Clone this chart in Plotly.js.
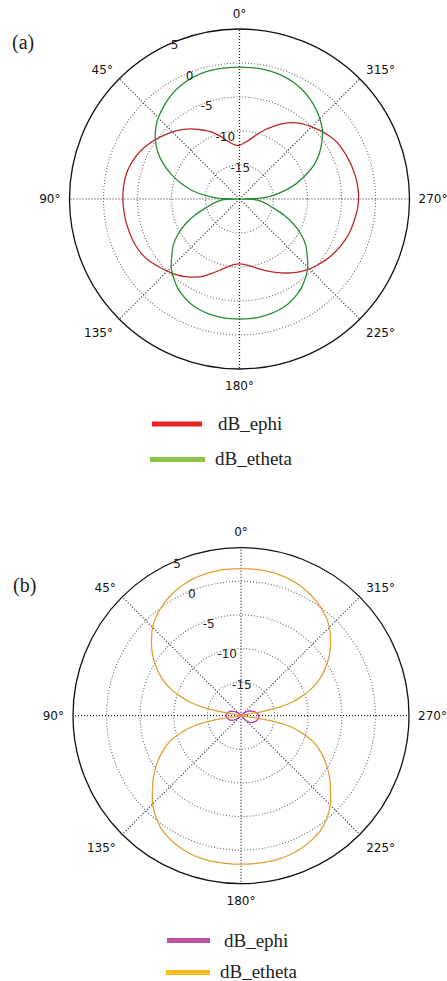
<!DOCTYPE html>
<html>
<head>
<meta charset="utf-8">
<script src="https://cdn.plot.ly/plotly-3.0.1.min.js"></script>
<style>html,body{margin:0;padding:0;background:#fff;}#chart{width:447px;height:981px;}</style>
</head>
<body>
<div id="chart"></div>
<script>
// ---------- data ----------
var angleTicks = [0, 45, 90, 135, 180, 225, 270, 315];
var angleLabels = ['0°', '45°', '90°', '135°', '180°', '225°', '270°', '315°'];
var radialTicks = [-15, -10, -5, 0, 5];
var radialLabels = ['-15', '-10', '-5', '0', '5'];
var seriesNames = ['dB_ephi', 'dB_etheta'];

// (a) dB_ephi
var thetaPhiA = [0,5,10,15,20,25,30,35,40,45,50,55,60,65,70,75,80,85,90,95,100,105,110,115,120,125,130,135,140,145,150,155,160,165,170,175,180,185,190,195,200,205,210,215,220,225,230,235,240,245,250,255,260,265,270,275,280,285,290,295,300,305,310,315,320,325,330,335,340,345,350,355,360];
var rPhiA = [-12.1,-12.0,-11.5,-10.7,-9.8,-8.95,-8.2,-7.4,-6.7,-6.05,-5.45,-4.85,-4.25,-3.75,-3.35,-3.05,-2.9,-2.85,-2.85,-2.9,-2.95,-3.05,-3.15,-3.3,-3.55,-3.95,-4.5,-5.0,-5.5,-6.05,-6.75,-7.5,-8.4,-9.2,-9.85,-10.3,-10.45,-10.3,-9.95,-9.4,-8.8,-8.15,-7.45,-6.75,-6.05,-5.45,-4.95,-4.45,-4.0,-3.6,-3.25,-3.0,-2.8,-2.6,-2.5,-2.5,-2.6,-2.75,-2.95,-3.15,-3.4,-3.85,-4.4,-5.0,-5.6,-6.3,-7.2,-8.2,-9.2,-10.2,-11.1,-11.7,-12.1];

// (a) dB_etheta
var thetaThetaA = [0,5,10,15,20,25,30,35,40,45,50,55,60,65,70,75,80,85,88,90,92,95,100,105,110,115,120,125,130,135,140,145,150,155,160,165,170,175,180,185,190,195,200,205,210,215,220,225,230,235,240,245,250,255,260,265,268,270,272,275,280,285,290,295,300,305,310,315,320,325,330,335,340,345,350,355,360];
var rThetaA = [-0.6,-0.6,-0.6,-0.65,-0.8,-1.05,-1.4,-1.9,-2.5,-3.1,-3.9,-4.9,-6.1,-7.6,-9.3,-11.1,-13.0,-15.3,-17.0,-20,-18.0,-17.0,-16.0,-14.8,-13.0,-11.2,-9.5,-8.1,-7.0,-5.8,-4.9,-4.1,-3.5,-3.0,-2.7,-2.5,-2.4,-2.35,-2.35,-2.35,-2.4,-2.5,-2.7,-3.0,-3.5,-4.1,-4.9,-5.8,-7.0,-8.1,-9.5,-11.2,-13.0,-14.8,-16.0,-17.0,-18.0,-20,-17.2,-15.5,-13.4,-11.4,-9.6,-7.8,-6.4,-5.2,-4.1,-3.3,-2.6,-2.0,-1.5,-1.1,-0.85,-0.7,-0.6,-0.6,-0.6];

// (b) dB_ephi
var thetaPhiB = [0,5,10,15,20,25,30,35,40,45,50,55,60,65,70,75,80,85,90,95,100,105,110,115,120,125,130,135,140,145,150,155,160,165,170,175,180,185,190,195,200,205,210,215,220,225,230,235,240,245,250,255,260,265,270,275,280,285,290,295,300,305,310,315,320,325,330,335,340,345,350,355,360];
var rPhiB = [-20,-20,-20,-20,-20,-20,-20,-20,-20,-19.6,-19.3,-19.0,-18.7,-18.4,-18.2,-18.05,-17.9,-17.8,-17.75,-17.8,-17.9,-18.05,-18.2,-18.4,-18.7,-19.0,-19.3,-19.6,-20,-20,-20,-20,-20,-20,-20,-20,-20,-20,-20,-20,-20,-20,-20,-20,-19.6,-19.0,-18.5,-18.2,-17.95,-17.8,-17.65,-17.5,-17.4,-17.35,-17.35,-17.45,-17.6,-17.85,-18.1,-18.35,-18.6,-18.9,-19.3,-19.6,-20,-20,-20,-20,-20,-20,-20,-20,-20];

// (b) dB_etheta
var thetaThetaB = [0,5,10,15,20,25,30,35,40,45,50,55,60,65,70,75,77,79,89,98,100,102,105,110,115,120,125,130,135,140,145,150,155,160,165,170,175,180,185,190,195,200,205,210,215,220,225,230,235,240,245,250,255,258,260,262,271,281,283,285,290,295,300,305,310,315,320,325,330,335,340,345,350,355,360];
var rThetaB = [1.9,1.9,1.85,1.75,1.55,1.2,0.75,0.2,-0.5,-1.4,-2.6,-3.9,-5.4,-7.1,-9.2,-12.0,-13.8,-16.8,-20,-18.0,-15.0,-13.0,-11.2,-8.7,-7.0,-5.5,-4.1,-2.8,-1.4,-0.3,0.6,1.2,1.6,1.9,2.05,2.1,2.1,2.1,2.1,2.1,2.05,1.9,1.65,1.25,0.75,-0.1,-1.2,-2.6,-3.9,-5.3,-6.8,-8.5,-11.0,-12.8,-14.8,-18.0,-20,-16.8,-13.8,-12.0,-9.2,-7.1,-5.4,-3.9,-2.6,-1.4,-0.5,0.2,0.75,1.2,1.55,1.75,1.85,1.9,1.9];

// ---------- styling ----------
var W = 447, H = 981;
function px(x) { return x / W; }
function py(y) { return 1 - y / H; }
var DOTS = '1px,2px';
var RADIAL_ANGLE = 116;

function polarLayout(x0, x1, y0, y1) {
  return {
    domain: {x: [px(x0), px(x1)], y: [py(y1), py(y0)]},
    bgcolor: '#ffffff',
    angularaxis: {
      rotation: 90, direction: 'counterclockwise',
      tickmode: 'array', tickvals: angleTicks, ticktext: angleLabels,
      tickfont: {family: 'DejaVu Sans', size: 12, color: '#111'},
      ticks: 'outside', ticklen: 6, tickcolor: 'rgba(0,0,0,0)',
      showline: true, linecolor: '#111', linewidth: 1.3,
      showgrid: true, gridcolor: '#222', gridwidth: 1.2, griddash: DOTS
    },
    radialaxis: {
      range: [-20, 5], tickmode: 'array', tickvals: radialTicks, ticktext: radialLabels,
      angle: RADIAL_ANGLE, tickangle: RADIAL_ANGLE, showline: false, ticks: '',
      ticklabelshift: 4.5,
      tickfont: {family: 'DejaVu Sans', size: 12, color: '#222'},
      showgrid: true, gridcolor: '#666', gridwidth: 1.1, griddash: DOTS
    }
  };
}

var traces = [
  {type: 'scatterpolar', mode: 'lines', subplot: 'polar', theta: thetaPhiA, r: rPhiA, name: seriesNames[0],
   line: {color: 'rgb(185,40,40)', width: 1.3, shape: 'spline', smoothing: 0.8}, showlegend: false},
  {type: 'scatterpolar', mode: 'lines', subplot: 'polar', theta: thetaThetaA, r: rThetaA, name: seriesNames[1],
   line: {color: 'rgb(40,140,50)', width: 1.3, shape: 'spline', smoothing: 0.6}, showlegend: false},
  {type: 'scatterpolar', mode: 'lines', subplot: 'polar2', theta: thetaPhiB, r: rPhiB, name: seriesNames[0],
   line: {color: 'rgb(180,60,180)', width: 1.3}, showlegend: false},
  {type: 'scatterpolar', mode: 'lines', subplot: 'polar2', theta: thetaThetaB, r: rThetaB, name: seriesNames[1],
   line: {color: 'rgb(226,160,50)', width: 1.3, shape: 'spline', smoothing: 0.6}, showlegend: false}
];

function legLine(x0, x1, y, color) {
  return {type: 'line', xref: 'paper', yref: 'paper', x0: px(x0), x1: px(x1), y0: py(y), y1: py(y),
          line: {color: color, width: 5}};
}
function legText(x, y, t, size) {
  return {xref: 'paper', yref: 'paper', x: px(x), y: py(y), xanchor: 'left', yanchor: 'middle',
          text: t, showarrow: false, font: {family: 'Liberation Serif, serif', size: size || 19, color: '#222'}};
}

var layout = {
  width: W, height: H,
  margin: {l: 0, r: 0, t: 0, b: 0},
  paper_bgcolor: '#ffffff',
  showlegend: false,
  polar: polarLayout(69.5, 409.5, 29, 369),
  polar2: polarLayout(73, 409, 547.7, 883.7),
  shapes: [
    legLine(152, 202, 424, 'rgb(237,32,36)'),
    legLine(150, 205, 459.5, 'rgb(140,198,70)'),
    legLine(167, 210, 940.5, 'rgb(192,80,160)'),
    legLine(166, 210, 972.5, 'rgb(247,187,30)')
  ],
  annotations: [
    legText(216, 423, seriesNames[0]),
    legText(213, 458.5, seriesNames[1]),
    legText(222, 940, seriesNames[0]),
    legText(218, 971, seriesNames[1]),
    legText(10, 43, '(a)', 20),
    legText(11, 585, '(b)', 20)
  ]
};

Plotly.newPlot('chart', traces, layout, {staticPlot: true, displayModeBar: false});
</script>
</body>
</html>
